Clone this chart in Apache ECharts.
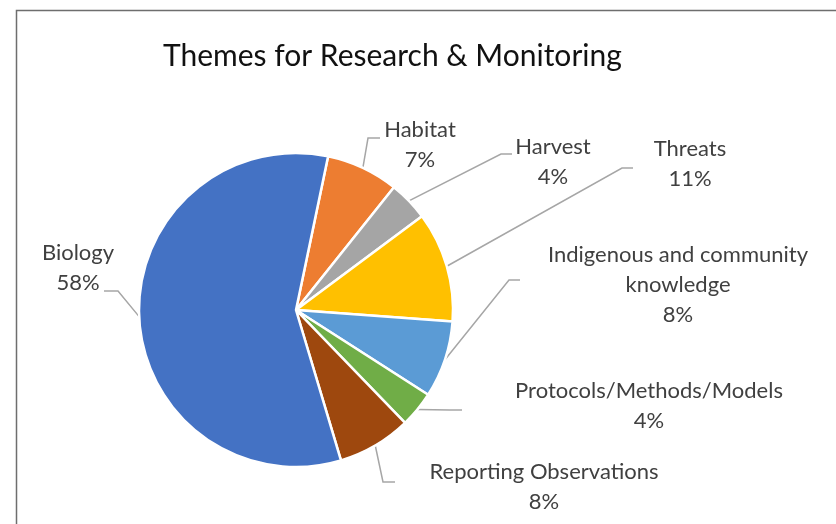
<!DOCTYPE html>
<html>
<head>
<meta charset="utf-8">
<script src="https://cdn.jsdelivr.net/npm/echarts@6/dist/echarts.min.js"></script>
<style>
html,body{margin:0;padding:0;background:#fff;}
#chart{width:836px;height:524px;}
</style>
</head>
<body>
<div id="chart"></div>
<script>
// Data (clockwise from ~12 o'clock)
const categories = ['Habitat', 'Harvest', 'Threats', 'Indigenous and community\nknowledge', 'Protocols/Methods/Models', 'Reporting Observations', 'Biology'];
const values = [7.45, 4.1, 11.35, 7.9, 3.7, 7.6, 57.9];
const colors = ['#ED7D31', '#A5A5A5', '#FFC000', '#5B9BD5', '#70AD47', '#9E480E', '#4472C4'];

// Label layout: label centre and leader-line elbow/end points (pixels)
const labelPos = [
  {x: 420, y: 145, elbow: [368, 138], end: [380, 138]},
  {x: 553, y: 162, elbow: [501, 154], end: [512, 154]},
  {x: 690, y: 164, elbow: [622, 168], end: [633, 168]},
  {x: 678, y: 285, elbow: [509, 280], end: [520, 280]},
  {x: 649, y: 406, elbow: [450, 410], end: [462, 410]},
  {x: 544, y: 487, elbow: [383, 482], end: [395, 482]},
  {x: 78, y: 268, elbow: [118, 291], end: [104, 291]}
];

const total = values.reduce((a, b) => a + b, 0);
const chart = echarts.init(document.getElementById('chart'));
chart.setOption({
  animation: false,
  title: {
    text: 'Themes for Research & Monitoring',
    left: 158,
    top: 36,
    textStyle: {fontFamily: 'Lato', fontSize: 30, fontWeight: 'normal', color: '#111'}
  },
  graphic: [{
    type: 'polyline',
    shape: {points: [[16.5, 530], [16.5, 10.5], [840, 10.5]]},
    style: {stroke: '#6e6e6e', lineWidth: 1.5, fill: null},
    silent: true
  }],
  series: [{
    type: 'pie',
    center: [296, 310],
    radius: 157,
    startAngle: 78.2,
    clockwise: true,
    avoidLabelOverlap: false,
    itemStyle: {borderColor: '#fff', borderWidth: 2.5},
    data: categories.map((c, i) => ({name: c, value: values[i], itemStyle: {color: colors[i]}})),
    label: {
      show: true,
      position: 'outside',
      formatter: p => p.name + '\n' + Math.round(p.value / total * 100) + '%',
      fontFamily: 'Lato',
      fontSize: 22,
      lineHeight: 30,
      color: '#404040',
      align: 'center'
    },
    labelLine: {show: true, length: 20, length2: 10, lineStyle: {color: '#A6A6A6', width: 1.5}},
    labelLayout: function (params) {
      const L = labelPos[params.dataIndex];
      const start = params.labelLinePoints ? params.labelLinePoints[0] : L.elbow;
      return {
        x: L.x,
        y: L.y,
        align: 'center',
        verticalAlign: 'middle',
        labelLinePoints: [start, L.elbow, L.end]
      };
    }
  }]
});
</script>
</body>
</html>
